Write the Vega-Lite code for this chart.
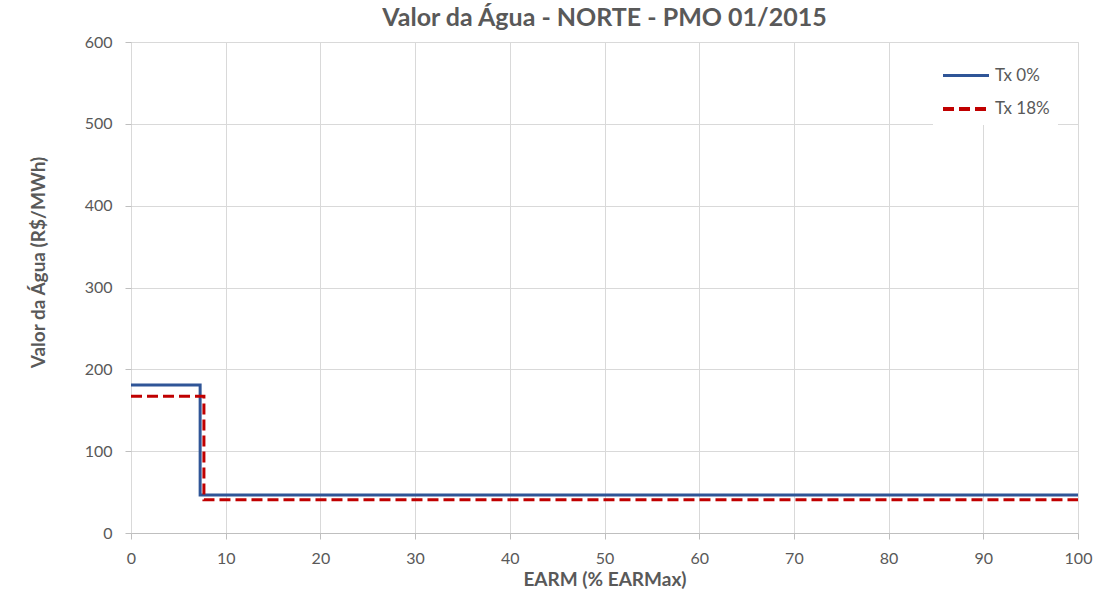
{
  "$schema": "https://vega.github.io/schema/vega-lite/v6.json",
  "width": 947,
  "height": 491,
  "autosize": {"type": "none"},
  "padding": {"left": 131, "top": 42, "right": 41, "bottom": 61},
  "background": "white",
  "title": {
    "text": "Valor da Água - NORTE - PMO 01/2015",
    "font": "Lato",
    "fontSize": 25,
    "fontWeight": "bold",
    "color": "#595959",
    "offset": 3,
    "anchor": "middle"
  },
  "data": {
    "values": [
      {"earm": 0, "valor": 181, "serie": "Tx 0%"},
      {"earm": 7.3, "valor": 46.5, "serie": "Tx 0%"},
      {"earm": 100, "valor": 46.5, "serie": "Tx 0%"},
      {"earm": 0, "valor": 167, "serie": "Tx 18%"},
      {"earm": 7.7, "valor": 40.5, "serie": "Tx 18%"},
      {"earm": 100, "valor": 40.5, "serie": "Tx 18%"}
    ]
  },
  "mark": {"type": "line", "interpolate": "step-after", "strokeWidth": 3, "clip": true},
  "encoding": {
    "x": {
      "field": "earm",
      "type": "quantitative",
      "scale": {"domain": [0, 100], "nice": false, "zero": false},
      "axis": {
        "title": "EARM (% EARMax)",
        "values": [0, 10, 20, 30, 40, 50, 60, 70, 80, 90, 100],
        "labelFont": "Lato",
        "labelFontSize": 16,
        "labelColor": "#595959",
        "labelPadding": 11,
        "titleFont": "Lato",
        "titleFontSize": 19,
        "titleFontWeight": "bold",
        "titleColor": "#595959",
        "titlePadding": 4,
        "tickSize": 6,
        "tickColor": "#bfbfbf",
        "domainColor": "#bfbfbf",
        "gridColor": "#d9d9d9",
        "labelFlush": false
      }
    },
    "y": {
      "field": "valor",
      "type": "quantitative",
      "scale": {"domain": [0, 600], "nice": false},
      "axis": {
        "title": "Valor da Água  (R$/MWh)",
        "values": [0, 100, 200, 300, 400, 500, 600],
        "labelFont": "Lato",
        "labelFontSize": 16,
        "labelColor": "#595959",
        "labelPadding": 13,
        "titleFont": "Lato",
        "titleFontSize": 19,
        "titleFontWeight": "bold",
        "titleColor": "#595959",
        "titleX": -93,
        "titleY": 220,
        "titleBaseline": "middle",
        "titleAlign": "center",
        "tickSize": 6,
        "tickColor": "#bfbfbf",
        "domain": false,
        "gridColor": "#d9d9d9"
      }
    },
    "color": {
      "field": "serie",
      "type": "nominal",
      "scale": {"domain": ["Tx 0%", "Tx 18%"], "range": ["#2F5597", "#C00000"]},
      "legend": {
        "title": null,
        "orient": "none",
        "legendX": 802,
        "legendY": 1,
        "fillColor": "white",
        "padding": 8,
        "symbolType": "M-1,0H1",
        "symbolSize": 2116,
        "symbolStrokeWidth": {"expr": "datum.value == 'Tx 18%' ? 4 : 3"},
        "labelFont": "Lato",
        "labelFontSize": 17,
        "labelColor": "#595959",
        "labelOffset": 4,
        "rowPadding": 0,
        "symbolDash": {"expr": "datum.value == 'Tx 18%' ? [10, 5] : []"}
      }
    },
    "strokeDash": {
      "field": "serie",
      "type": "nominal",
      "scale": {"domain": ["Tx 0%", "Tx 18%"], "range": [[1, 0], [11, 5]]},
      "legend": null
    },
    "strokeWidth": {
      "field": "serie",
      "type": "nominal",
      "scale": {"domain": ["Tx 0%", "Tx 18%"], "range": [3, 4]},
      "legend": null
    }
  }
}
